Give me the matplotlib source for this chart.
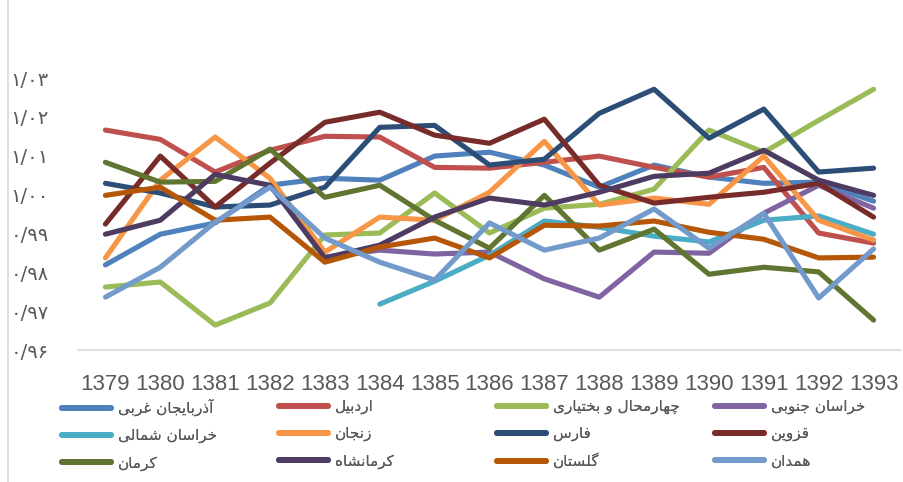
import numpy as np
import matplotlib
matplotlib.use("Agg")
import matplotlib.pyplot as plt
from matplotlib.lines import Line2D

nan = np.nan
years = ['1379', '1380', '1381', '1382', '1383', '1384', '1385', '1386',
         '1387', '1388', '1389', '1390', '1391', '1392', '1393']

azarbaijan_gharbi = [0.9819, 0.9898, 0.9927, 1.0024, 1.0042, 1.0037, 1.0099, 1.0109,
                     1.0076, 1.0019, 1.0076, 1.0045, 1.0029, 1.0032, 0.9983]
ardabil = [1.0166, 1.0142, 1.0058, 1.0114, 1.0150, 1.0148, 1.0070, 1.0068,
           1.0083, 1.0099, 1.0070, 1.0045, 1.0070, 0.9901, 0.9875]
chaharmahal = [0.9762, 0.9775, 0.9664, 0.9721, 0.9896, 0.9901, 1.0004, 0.9901,
               0.9965, 0.9975, 1.0014, 1.0166, 1.0109, 1.0191, 1.0271]
khorasan_jonubi = [nan, nan, nan, nan, 0.9839, 0.9857, 0.9847, 0.9852,
                   0.9783, 0.9736, 0.9852, 0.9849, 0.9952, 1.0024, 0.9965]
khorasan_shomali = [nan, nan, nan, nan, nan, 0.9718, 0.9777, 0.9844,
                    0.9932, 0.9916, 0.9893, 0.9878, 0.9934, 0.9945, 0.9898]
zanjan = [0.9837, 1.0037, 1.0148, 1.0042, 0.9852, 0.9942, 0.9934, 1.0006,
          1.0137, 0.9973, 0.9991, 0.9975, 1.0099, 0.9934, 0.9883]
fars = [1.0029, 1.0004, 0.9968, 0.9973, 1.0019, 1.0173, 1.0178, 1.0076,
        1.0091, 1.0209, 1.0271, 1.0145, 1.0220, 1.0058, 1.0068]
qazvin = [0.9924, 1.0099, 0.9968, 1.0081, 1.0186, 1.0212, 1.0153, 1.0132,
          1.0194, 1.0024, 0.9978, 0.9993, 1.0006, 1.0029, 0.9942]
kerman = [1.0083, 1.0032, 1.0034, 1.0117, 0.9993, 1.0024, 0.9934, 0.9862,
          0.9998, 0.9857, 0.9911, 0.9795, 0.9813, 0.9801, 0.9677]
kermanshah = [0.9898, 0.9934, 1.0052, 1.0024, 0.9837, 0.9870, 0.9942, 0.9991,
              0.9973, 1.0006, 1.0047, 1.0055, 1.0114, 1.0037, 0.9998]
golestan = [0.9998, 1.0019, 0.9934, 0.9942, 0.9826, 0.9865, 0.9888, 0.9837,
            0.9921, 0.9919, 0.9932, 0.9903, 0.9885, 0.9837, 0.9839]
hamedan = [0.9736, 0.9813, 0.9929, 1.0019, 0.9888, 0.9826, 0.9780, 0.9927,
           0.9857, 0.9888, 0.9963, 0.9862, 0.9952, 0.9734, 0.9860]

series_names = ['آذربایجان غربی', 'اردبیل', 'چهارمحال و بختیاری', 'خراسان جنوبی',
                'خراسان شمالی', 'زنجان', 'فارس', 'قزوین',
                'کرمان', 'کرمانشاه', 'گلستان', 'همدان']
series_values = [azarbaijan_gharbi, ardabil, chaharmahal, khorasan_jonubi,
                 khorasan_shomali, zanjan, fars, qazvin,
                 kerman, kermanshah, golestan, hamedan]
colors = ['#4F81BD', '#C0504D', '#9BBB59', '#8064A2', '#4BACC6', '#F79646',
          '#2C4D75', '#772C2A', '#5F7530', '#4D3B62', '#B65708', '#729ACA']

ytick_values = [0.96, 0.97, 0.98, 0.99, 1.00, 1.01, 1.02, 1.03]
ytick_labels = ['۰/۹۶', '۰/۹۷', '۰/۹۸', '۰/۹۹', '۱/۰۰', '۱/۰۱', '۱/۰۲', '۱/۰۳']

# --- minimal Persian contextual shaping (matplotlib has no Arabic shaping) ---
FORMS = {
    '\u0622': ('\uFE81', '\uFE82', None, None),
    '\u0627': ('\uFE8D', '\uFE8E', None, None),
    '\u0628': ('\uFE8F', '\uFE90', '\uFE91', '\uFE92'),
    '\u062A': ('\uFE95', '\uFE96', '\uFE97', '\uFE98'),
    '\u062C': ('\uFE9D', '\uFE9E', '\uFE9F', '\uFEA0'),
    '\u0686': ('\uFB7A', '\uFB7B', '\uFB7C', '\uFB7D'),
    '\u062D': ('\uFEA1', '\uFEA2', '\uFEA3', '\uFEA4'),
    '\u062E': ('\uFEA5', '\uFEA6', '\uFEA7', '\uFEA8'),
    '\u062F': ('\uFEA9', '\uFEAA', None, None),
    '\u0630': ('\uFEAB', '\uFEAC', None, None),
    '\u0631': ('\uFEAD', '\uFEAE', None, None),
    '\u0632': ('\uFEAF', '\uFEB0', None, None),
    '\u0633': ('\uFEB1', '\uFEB2', '\uFEB3', '\uFEB4'),
    '\u0634': ('\uFEB5', '\uFEB6', '\uFEB7', '\uFEB8'),
    '\u063A': ('\uFECD', '\uFECE', '\uFECF', '\uFED0'),
    '\u0641': ('\uFED1', '\uFED2', '\uFED3', '\uFED4'),
    '\u0642': ('\uFED5', '\uFED6', '\uFED7', '\uFED8'),
    '\u06A9': ('\uFB8E', '\uFB8F', '\uFB90', '\uFB91'),
    '\u06AF': ('\uFB92', '\uFB93', '\uFB94', '\uFB95'),
    '\u0644': ('\uFEDD', '\uFEDE', '\uFEDF', '\uFEE0'),
    '\u0645': ('\uFEE1', '\uFEE2', '\uFEE3', '\uFEE4'),
    '\u0646': ('\uFEE5', '\uFEE6', '\uFEE7', '\uFEE8'),
    '\u0647': ('\uFEE9', '\uFEEA', '\uFEEB', '\uFEEC'),
    '\u0648': ('\uFEED', '\uFEEE', None, None),
    '\u06CC': ('\uFBFC', '\uFBFD', '\uFBFE', '\uFBFF'),
}


def shape(s):
    out = []
    for i, c in enumerate(s):
        if c not in FORMS:
            out.append(c)
            continue
        iso, fin, ini, med = FORMS[c]
        prev = s[i - 1] if i > 0 else None
        nxt = s[i + 1] if i + 1 < len(s) else None
        pj = prev in FORMS and FORMS[prev][2] is not None
        nj = (nxt in FORMS) and ini is not None
        if pj and nj:
            out.append(med)
        elif pj:
            out.append(fin)
        elif nj:
            out.append(ini)
        else:
            out.append(iso)
    return ''.join(reversed(out))


W, H = 904, 482
fig = plt.figure(figsize=(W / 100, H / 100), dpi=100)
ax = fig.add_axes([78 / W, (H - 350) / H, (901 - 78) / W, (350 - 78) / H])

x = np.arange(len(years))
lines = []
for name, vals, col in zip(series_names, series_values, colors):
    ln, = ax.plot(x, vals, color=col, lw=3.7, solid_capstyle='round',
                  solid_joinstyle='round', label=shape(name))
    lines.append(ln)

ax.set_xlim(-0.5, len(years) - 0.5)
ax.set_ylim(0.96, 1.03)
ax.set_xticks(x)
ax.set_xticklabels(years, fontsize=16, color='#595959', family=['Liberation Sans', 'DejaVu Sans'])
ax.set_yticks(ytick_values)
ax.set_yticklabels(ytick_labels, fontsize=14, color='#595959', family=['DejaVu Sans'])
ax.tick_params(axis='x', length=0, pad=17)
ax.tick_params(axis='y', length=0, pad=21)
for s in ['top', 'right', 'left']:
    ax.spines[s].set_visible(False)
ax.spines['bottom'].set_color('#D9D9D9')
ax.spines['bottom'].set_linewidth(1.2)

# chart border on the left
fig.add_artist(Line2D([7.5 / W, 7.5 / W], [0, 1], transform=fig.transFigure,
                      color='#D9D9D9', lw=1.2))

# legend: 4 columns x 3 rows (row-major order as in the original)
col_x = [62, 279, 497, 715]
for c in range(4):
    idx = [c, c + 4, c + 8]
    leg = fig.legend([lines[i] for i in idx], [shape(series_names[i]) for i in idx],
                     loc='upper left', bbox_to_anchor=(col_x[c] / W, (H - 399) / H),
                     frameon=False, ncol=1, handlelength=3.2,
                     handletextpad=0.45, labelspacing=0.78, borderpad=0,
                     borderaxespad=0, prop={'family': 'DejaVu Sans', 'size': 11})
    for t in leg.get_texts():
        t.set_color('#595959')
    for h in leg.legend_handles:
        h.set_linewidth(4.2)
    fig.add_artist(leg)

fig.savefig('out.png', dpi=100)
